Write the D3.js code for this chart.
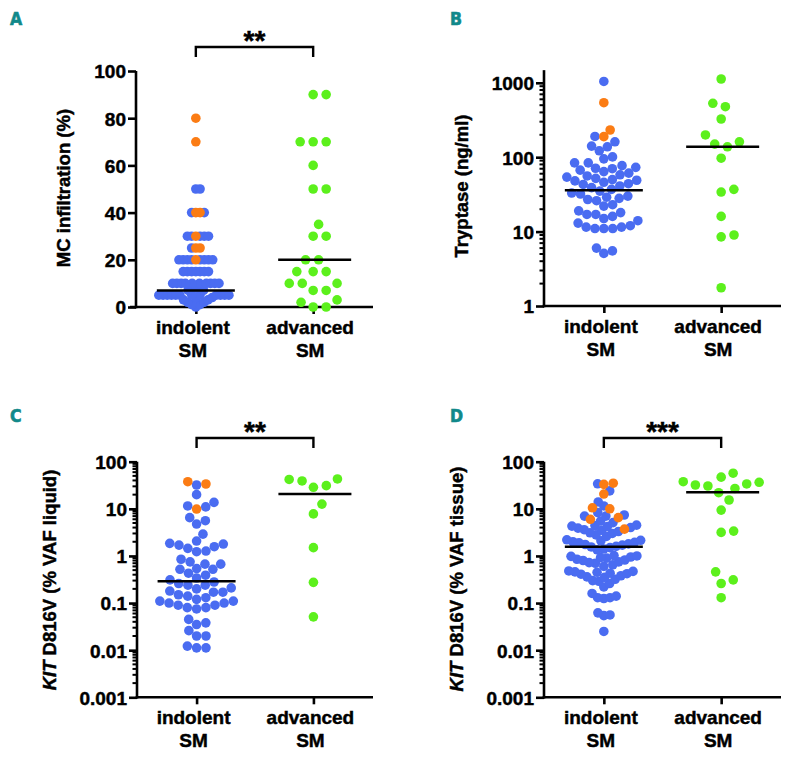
<!DOCTYPE html>
<html>
<head>
<meta charset="utf-8">
<script src="https://cdn.jsdelivr.net/npm/d3@7"></script>
<style>
  html, body { margin: 0; padding: 0; background: #fff; }
  svg { display: block; }
  text { font-family: "Liberation Sans", Arial, sans-serif; font-weight: bold; fill: #000; stroke: #000; stroke-width: 0.45px; }
</style>
</head>
<body>
<svg id="chart" width="796" height="765"></svg>
<script>
// ---------------- DATA ----------------
const categories = ["indolent SM", "advanced SM"];

// Panel A: MC infiltration (%)
const mcIndolentBlue = [0, 1, 1, 2, 2, 3, 3, 4, 4, 5, 5, 5, 5, 5, 5, 5, 5, 5, 5, 5, 5, 7, 7, 8,
  10, 10, 10, 10, 10, 10, 10, 10, 10, 10, 15, 15, 15, 15, 15, 15, 15,
  20, 20, 20, 20, 20, 20, 20, 20, 25, 30, 30, 30, 30, 30, 40, 40, 50, 50];
const mcIndolentOrange = [80, 70, 40, 40, 30, 25, 25, 20];
const mcAdvanced = [90, 90, 70, 70, 70, 60, 50, 50, 35, 30, 30, 20, 20, 15, 15, 15, 10, 10, 10, 7, 7, 3, 2, 0, 0];
const mcMedians = [7, 20];
const mcTicks = [0, 20, 40, 60, 80, 100];

// Panel B: Tryptase (ng/ml)
const tryIndolentBlue = [1043, 190, 161, 141, 138, 122, 101, 95, 84, 84, 77, 71,
  48, 49, 50, 52, 54, 56, 58, 61, 64, 67, 70, 73,
  27, 28, 29, 30, 32, 33, 35, 37, 39, 41, 43, 44, 46,
  11, 11, 11, 11.5, 11.5, 12, 13, 14, 15, 16, 17, 17, 18, 19, 22, 23, 26,
  6, 5.1, 5.5];
const tryIndolentOrange = [540, 232, 189];
const tryAdvanced = [1125, 530, 477, 326, 199, 161, 150, 138, 97, 37, 34, 16, 9, 8.5, 1.76];
const tryMedians = [36, 138];
const tryTicks = [1, 10, 100, 1000];

// Panel C: KIT D816V (% VAF liquid)
const liqIndolentBlue = [32, 20, 11.5, 13.7, 11, 5.6, 4.75, 6.5, 2.9, 2.07, 1.79, 1.27, 1.57, 1.7, 1.85,
  1.23, 1.45, 0.67, 0.85, 0.75, 0.67, 0.52, 0.43, 0.34, 0.39, 0.52, 0.54, 0.31,
  0.26, 0.24, 0.2, 0.17, 0.15, 0.17, 0.18, 0.21, 0.24, 0.28, 0.14, 0.13,
  0.11, 0.1, 0.09, 0.08, 0.075, 0.08, 0.09, 0.1, 0.11, 0.12,
  0.045, 0.035, 0.026, 0.038, 0.02, 0.02, 0.0122, 0.0112, 0.0112];
const liqIndolentOrange = [33.6, 37.6, 9.9];
const liqAdvanced = [43, 39, 28.6, 31, 42, 12.6, 7.8, 1.5, 0.275, 0.051];
const liqMedians = [0.29, 20.6];

// Panel D: KIT D816V (% VAF tissue)
const tisIndolentBlue = [34, 24, 14, 11.5, 8.3, 7.4, 7, 7, 5.5, 5.1,
  4.5, 4.4, 4.2, 3.9, 3.6, 3.3, 3.0, 2.8, 2.6, 3.1, 3.5, 4.0, 4.3,
  2.2, 2.1, 2.0, 1.9, 1.8, 1.7, 1.6, 1.5, 1.4, 1.35, 1.55, 1.75, 1.95, 2.15,
  1.0, 0.98, 0.95, 0.9, 0.85, 0.8, 0.75, 0.7, 0.65, 0.6, 0.72, 0.82, 0.92, 1.02,
  0.48, 0.47, 0.45, 0.43, 0.41, 0.38, 0.35, 0.32, 0.29, 0.26, 0.3, 0.36, 0.42, 0.46,
  0.22, 0.16, 0.14, 0.13, 0.125, 0.13, 0.062, 0.056, 0.054, 0.025];
const tisIndolentOrange = [35, 33, 20.6, 10.5, 10, 6.5, 6, 3.7];
const tisAdvanced = [57, 47, 37.6, 33.7, 30.5, 27, 22, 32, 36.5, 15.4, 9.4, 3.16, 3.37, 0.46, 0.26, 0.31, 0.13];
const tisMedians = [1.57, 22.4];

const vafTicks = [0.001, 0.01, 0.1, 1, 10, 100];
const vafTickLabels = ["0.001", "0.01", "0.1", "1", "10", "100"];
const panelLetters = ["A", "B", "C", "D"];
const significance = ["**", null, "**", "***"];

// ---------------- STYLE / LAYOUT ----------------
const COLORS = { blue: "#4a6cf1", orange: "#fb7c14", green: "#5cf01c" };
const TEAL = "#11898a";
const R = 4.8;
const AXIS_W = 2.6;

const panels = [
  { letter: panelLetters[0], x0: 136, x1: 373, yTop: 71, yBot: 307, type: "linear", domain: [0, 100],
    ticks: mcTicks, labels: mcTicks.map(String), title: [{t: "MC infiltration (%)"}], titleX: 70, titleY: 188,
    indBlue: mcIndolentBlue, indOrange: mcIndolentOrange, adv: mcAdvanced, medians: mcMedians, sig: significance[0],
    letterX: 10, letterY: 25, bracketY: 47 },
  { letter: panelLetters[1], x0: 544, x1: 781, yTop: 306 - 74.4 * 3.17, yBot: 306, type: "log", domain: [1, Math.pow(10, 3.17)],
    ticks: tryTicks, labels: tryTicks.map(String), title: [{t: "Tryptase (ng/ml)"}], titleX: 468, titleY: 186,
    indBlue: tryIndolentBlue, indOrange: tryIndolentOrange, adv: tryAdvanced, medians: tryMedians, sig: significance[1],
    letterX: 450, letterY: 25, bracketY: null },
  { letter: panelLetters[2], x0: 137, x1: 373, yTop: 461.7, yBot: 697.3, type: "log", domain: [0.001, 100],
    ticks: vafTicks, labels: vafTickLabels, title: [{t: "KIT", i: true}, {t: " D816V (% VAF liquid)"}], titleX: 56, titleY: 580,
    indBlue: liqIndolentBlue, indOrange: liqIndolentOrange, adv: liqAdvanced, medians: liqMedians, sig: significance[2],
    letterX: 10, letterY: 422, bracketY: 438 },
  { letter: panelLetters[3], x0: 544, x1: 781, yTop: 461.7, yBot: 697.3, type: "log", domain: [0.001, 100],
    ticks: vafTicks, labels: vafTickLabels, title: [{t: "KIT", i: true}, {t: " D816V (% VAF tissue)"}], titleX: 463, titleY: 579,
    indBlue: tisIndolentBlue, indOrange: tisIndolentOrange, adv: tisAdvanced, medians: tisMedians, sig: significance[3],
    letterX: 450, letterY: 422, bracketY: 438 }
];

// beeswarm placement: ascending values, closest-to-centre free slot
function swarm(points, y, dist, maxHalf) {
  const sorted = points.slice().sort((a, b) => a.v - b.v);
  const placed = [];
  sorted.forEach(p => {
    const py = y(p.v);
    const cands = [0];
    placed.forEach(q => {
      const dy = py - q.y;
      if (Math.abs(dy) < dist) {
        const dx = Math.sqrt(dist * dist - dy * dy);
        cands.push(q.x + dx, q.x - dx);
      }
    });
    cands.sort((a, b) => (Math.abs(a) - Math.abs(b)) || (b - a));
    let chosen = 0;
    for (const c of cands) {
      let ok = true;
      for (const q of placed) {
        const dx = c - q.x, dy = py - q.y;
        if (dx * dx + dy * dy < dist * dist - 1e-6) { ok = false; break; }
      }
      if (ok) { chosen = c; break; }
    }
    placed.push({ ...p, x: chosen, y: py });
  });
  const m = d3.max(placed, d => Math.abs(d.x)) || 0;
  if (m > maxHalf) placed.forEach(d => d.x *= maxHalf / m);
  return placed;
}

const svg = d3.select("#chart");

panels.forEach(P => {
  const g = svg.append("g");
  const y = (P.type === "log" ? d3.scaleLog() : d3.scaleLinear()).domain(P.domain).range([P.yBot, P.yTop]);
  const x = d3.scalePoint().domain(categories).range([P.x0, P.x1]).padding(0.51);

  // panel letter
  g.append("text").attr("x", P.letterX).attr("y", P.letterY)
    .style("font-family", "'DejaVu Sans Condensed', 'Liberation Sans Narrow', sans-serif")
    .style("font-stretch", "condensed")
    .style("font-size", "17.5px").style("fill", TEAL).style("stroke", TEAL).style("stroke-width", "0.6px").text(P.letter);

  // y axis
  const yAxis = d3.axisLeft(y).tickValues(P.ticks).tickFormat((d, i) => P.labels[i])
    .tickSize(8).tickSizeOuter(0).tickPadding(2);
  const ya = g.append("g").attr("transform", `translate(${P.x0},0)`).call(yAxis);
  ya.select(".domain").attr("stroke", "#000").attr("stroke-width", AXIS_W)
    .attr("d", `M0,${P.yBot + AXIS_W / 2}V${P.yTop}`);
  ya.selectAll(".tick line").attr("stroke", "#000").attr("stroke-width", AXIS_W);
  ya.selectAll(".tick text").style("font-size", "19px").style("font-family", "'Liberation Sans', Arial, sans-serif")
    .style("font-weight", "bold").attr("fill", "#000").attr("dy", "0.36em");

  // minor ticks for log axes
  if (P.type === "log") {
    const minors = [];
    const lo = Math.round(Math.log10(P.domain[0])), hi = Math.ceil(Math.log10(P.domain[1]));
    for (let e = lo; e < hi; e++) for (let k = 2; k <= 9; k++) {
      const v = k * Math.pow(10, e);
      if (v < P.domain[1]) minors.push(v);
    }
    g.append("g").selectAll("line").data(minors).join("line")
      .attr("x1", P.x0 - 4.5).attr("x2", P.x0).attr("y1", d => y(d)).attr("y2", d => y(d))
      .attr("stroke", "#000").attr("stroke-width", 2);
  }

  // x axis
  const xAxis = d3.axisBottom(x).tickSize(7).tickSizeOuter(0).tickFormat("");
  const xa = g.append("g").attr("transform", `translate(0,${P.yBot})`).call(xAxis);
  xa.select(".domain").attr("stroke", "#000").attr("stroke-width", AXIS_W)
    .attr("d", `M${P.x0 - (P.type === "linear" ? 6 : AXIS_W / 2)},0H${P.x1}`);
  xa.selectAll(".tick line").attr("stroke", "#000").attr("stroke-width", AXIS_W);
  categories.forEach(c => {
    const parts = c.split(" ");
    const t = g.append("text").attr("text-anchor", "middle").style("font-size", "19px");
    t.append("tspan").attr("x", x(c) - 3).attr("y", P.yBot + 27).text(parts[0]);
    t.append("tspan").attr("x", x(c) - 3).attr("y", P.yBot + 50).text(parts[1]);
  });

  // y title
  const tt = g.append("text").attr("text-anchor", "middle").style("font-size", "18.5px")
    .attr("transform", `translate(${P.titleX},${P.titleY}) rotate(-90)`);
  P.title.forEach(s => tt.append("tspan").style("font-style", s.i ? "italic" : "normal").text(s.t));

  // points
  const indPts = P.indOrange.map(v => ({ v, c: COLORS.orange })).concat(P.indBlue.map(v => ({ v, c: COLORS.blue })));
  const advPts = P.adv.map(v => ({ v, c: COLORS.green }));
  const indPlaced = swarm(indPts, y, 9.4, 37).map(d => ({ ...d, cx: x(categories[0]) + d.x }));
  const advPlaced = swarm(advPts, y, 13, 38).map(d => ({ ...d, cx: x(categories[1]) + d.x }));
  const all = indPlaced.filter(d => d.c === COLORS.blue)
    .concat(indPlaced.filter(d => d.c === COLORS.orange)).concat(advPlaced);
  g.append("g").selectAll("circle").data(all).join("circle")
    .attr("cx", d => d.cx).attr("cy", d => d.y).attr("r", R).attr("fill", d => d.c);

  // medians
  g.append("g").selectAll("line").data(P.medians).join("line")
    .attr("x1", (d, i) => x(categories[i]) - (i === 0 ? 39 : 35))
    .attr("x2", (d, i) => x(categories[i]) + (i === 0 ? 39 : 38))
    .attr("y1", d => y(d)).attr("y2", d => y(d))
    .attr("stroke", "#000").attr("stroke-width", 2.6);

  // significance bracket
  if (P.sig) {
    const xa0 = x(categories[0]), xa1 = x(categories[1]);
    g.append("path")
      .attr("d", `M${xa0},${P.bracketY + 10}V${P.bracketY}H${xa1}V${P.bracketY + 10}`)
      .attr("fill", "none").attr("stroke", "#000").attr("stroke-width", 2.4);
    g.append("text").attr("x", (xa0 + xa1) / 2).attr("y", P.bracketY + 3)
      .attr("text-anchor", "middle").style("font-size", "28px").text(P.sig);
  }
});
</script>
</body>
</html>
